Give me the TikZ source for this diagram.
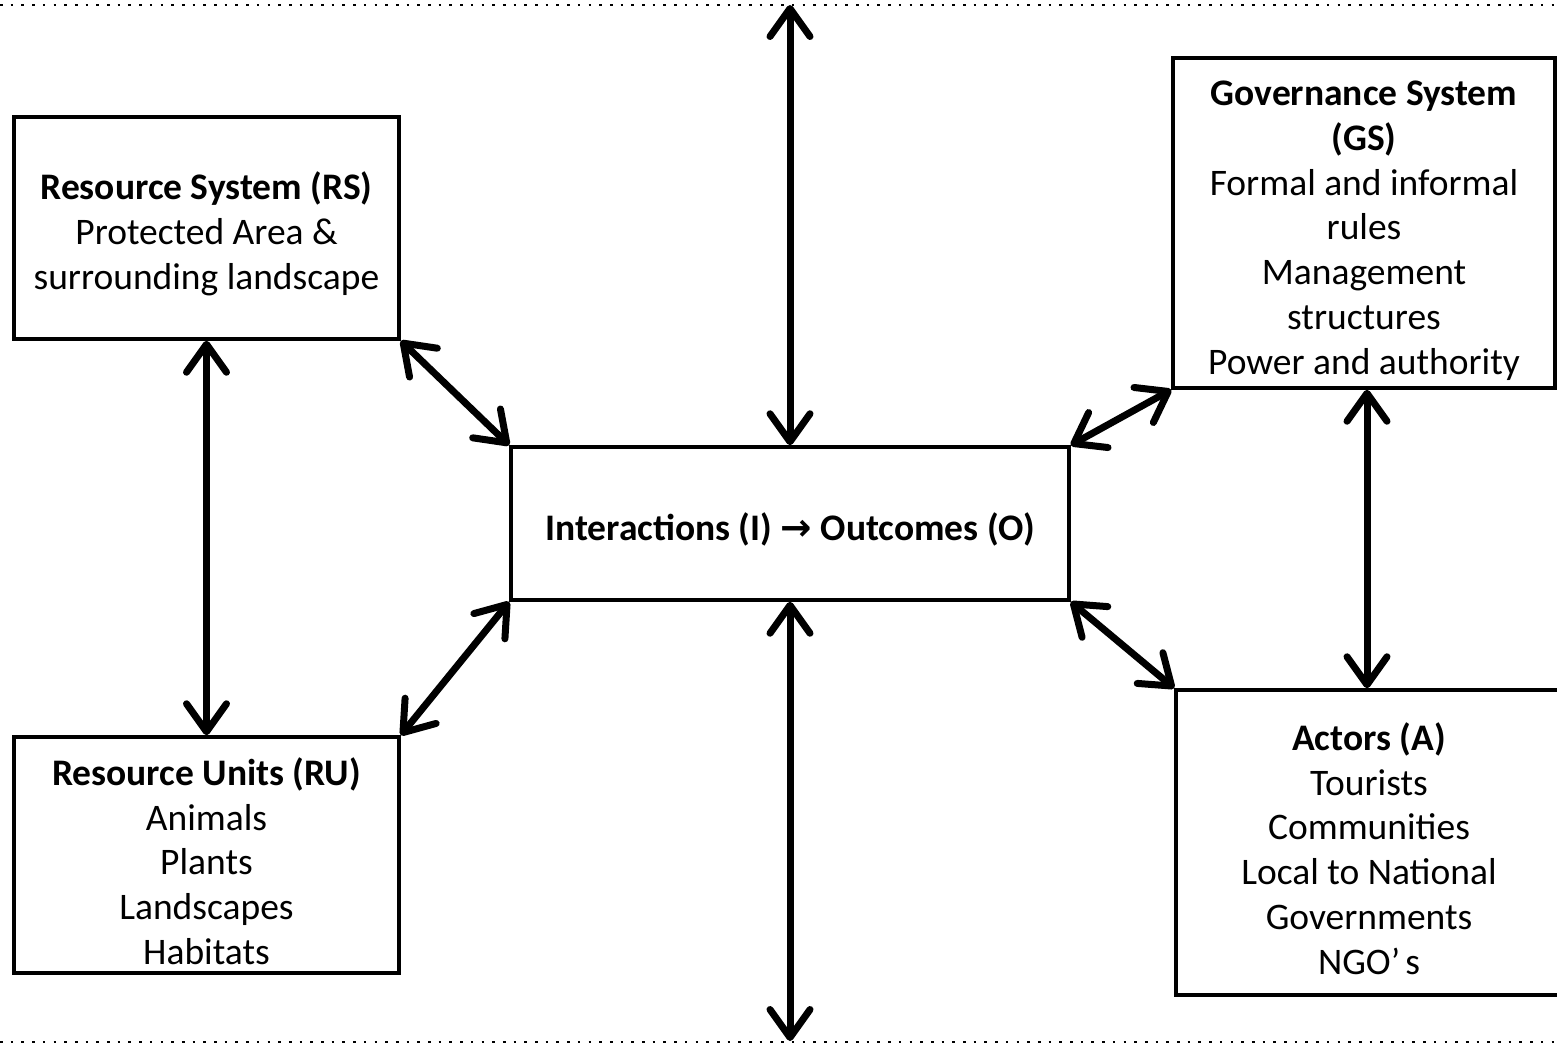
\documentclass[tikz,border=0pt]{standalone}
\usepackage{fontspec}
\setmainfont{Carlito}
\newfontfamily\arrowfont{DejaVu Sans}
\usetikzlibrary{arrows.meta}
\newcommand{\topstrut}{\rule{0pt}{40pt}}
\tikzset{
  box/.style={draw, line width=3.5pt, align=center, inner sep=0pt,
    font=\fontsize{37.5}{44.8}\selectfont},
  link/.style={line width=7pt, {Straight Barb[length=28pt,width=40pt,round]}-{Straight Barb[length=28pt,width=40pt,round]}},
  sep/.style={line width=2.6pt, dash pattern=on 2.6pt off 8.1pt}
}
\begin{document}
\begin{tikzpicture}[x=1pt,y=-1pt]
\useasboundingbox (0,0) rectangle (1557,1045);
% separator lines
\coordinate (tl) at (0,5);
\coordinate (tr) at (1557,5);
\coordinate (bl) at (0,1042);
\coordinate (br) at (1557,1042);
\draw[sep] (tl) -- (tr);
\draw[sep] (bl) -- (br);
\coordinate (topend) at (790,5);
\coordinate (botend) at (790,1041);
% boxes
\node[box, minimum width=385pt, minimum height=222pt] (rs) at (206.5,228)
  {\topstrut\textbf{Resource System (RS)}\\Protected Area \&\\surrounding landscape};
\node[box, minimum width=385pt, minimum height=236pt] (ru) at (206.5,855)
  {\topstrut\textbf{Resource Units (RU)}\\Animals\\Plants\\Landscapes\\Habitats};
\node[box, minimum width=558pt, minimum height=153pt] (io) at (790,523.5)
  {\topstrut\textbf{Interactions (I) {\arrowfont\bfseries →} Outcomes (O)}};
\node[box, minimum width=382pt, minimum height=330pt] (gs) at (1364,223)
  {\topstrut\textbf{Governance System}\\\textbf{(GS)}\\Formal and informal\\rules\\Management\\structures\\Power and authority};
\node[box, minimum width=386pt, minimum height=305pt] (ac) at (1369,842.5)
  {\topstrut\textbf{Actors (A)}\\Tourists\\Communities\\Local to National\\Governments\\NGO’\hspace{5pt}s};
% connectors
\draw[link] (topend) -- (io.north);
\draw[link] (io.south) -- (botend);
\draw[link] (rs.south) -- (ru.north);
\draw[link] (rs.south east) -- (io.north west);
\draw[link] (ru.north east) -- (io.south west);
\draw[link] (gs.south west) -- (io.north east);
\draw[link] (ac.north west) -- (io.south east);
\draw[link] (gs.south -| 1367,0) -- (ac.north -| 1367,0);
\end{tikzpicture}
\end{document}
